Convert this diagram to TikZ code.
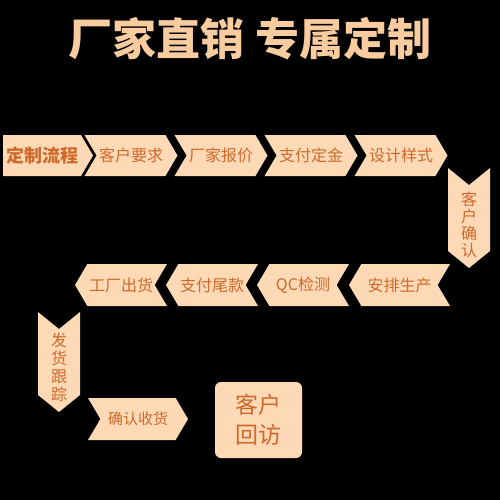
\documentclass[tikz,border=0pt]{standalone}
\usepackage{fontspec}
\usetikzlibrary{shapes.symbols}
\newfontfamily\cjk{Noto Sans CJK SC}
\definecolor{peach}{RGB}{253,217,181}
\definecolor{rust}{RGB}{206,106,44}
\definecolor{titlecol}{RGB}{248,204,158}

\begin{document}
\begin{tikzpicture}[
    x=1pt, y=-1pt,
    every node/.style={
        font=\cjk\fontsize{16}{17}\selectfont,
        text=rust,
        inner sep=0pt
    },
    chev/.style={shape=signal, fill=peach, minimum height=41pt, signal pointer angle=119},
    rchev/.style={chev, signal to=east, signal from=west, minimum width=93pt},
    lchev/.style={chev, signal to=west, signal from=east, minimum height=42pt, minimum width=92pt},
    dchev/.style={shape=signal, fill=peach, signal to=south, signal from=north,
        minimum width=42pt, minimum height=66pt, signal pointer angle=102},
    vtext/.style={align=center}
]

\fill[black] (0,0) rectangle (500,500);

\node[font=\cjk\bfseries\fontsize{44}{50}\selectfont, text=titlecol] (title) at (250,39) {厂家直销 专属定制};

% first row, to the right
\node[rchev, signal from=nowhere, minimum width=90pt, font=\cjk\bfseries\fontsize{18}{20}\selectfont] (start) at (42,155.5) {定制流程};
\node[rchev] (request) at (131,155.5) {客户要求};
\node[rchev] (quote) at (221,155.5) {厂家报价};
\node[rchev] (deposit) at (311,155.5) {支付定金};
\node[rchev] (design) at (401,155.5) {设计样式};

% down on the right
\node[dchev] (confirm) at (469,218) {};
\node[vtext] (confirmtext) at (469,225) {客\\户\\确\\认};

% second row, to the left
\node[lchev, minimum width=101pt] (produce) at (399.5,285) {安排生产};
\node[lchev] (qc) at (303,285) {QC检测};
\node[lchev] (balance) at (212,285) {支付尾款};
\node[lchev] (ship) at (121,285) {工厂出货};

% down on the left
\node[dchev] (track) at (59,362) {};
\node[vtext, font=\cjk\fontsize{16}{18}\selectfont] (tracktext) at (59,367) {发\\货\\跟\\踪};

% last row
\node[rchev, minimum width=100pt, minimum height=42pt, font=\cjk\fontsize{15}{17}\selectfont] (receive) at (138,419) {确认收货};
\node[draw=none, fill=peach, rounded corners=6pt, minimum width=87pt, minimum height=76pt,
    align=center, font=\cjk\fontsize{23}{30}\selectfont] (visit) at (258.5,420) {客户\\回访};

\end{tikzpicture}
\end{document}
